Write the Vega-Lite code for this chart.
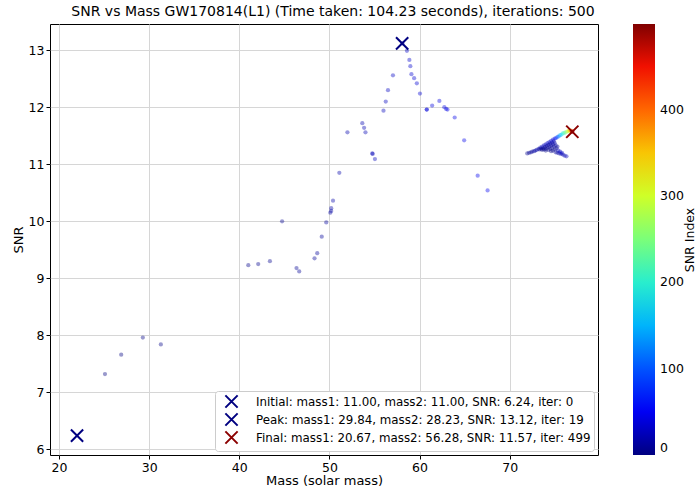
{
  "$schema": "https://vega.github.io/schema/vega-lite/v6.json",
  "width": 548,
  "height": 431,
  "autosize": {"type": "none"},
  "padding": {"left": 50, "top": 24, "right": 99, "bottom": 34},
  "config": {
    "font": "DejaVu Sans",
    "view": {"stroke": "#000000", "strokeWidth": 1},
    "axis": {
      "grid": true,
      "gridColor": "#d6d6d6",
      "gridWidth": 1,
      "domain": false,
      "tickColor": "#000000",
      "tickSize": 4,
      "labelFontSize": 12.5,
      "labelColor": "#000000",
      "labelPadding": 2,
      "titleFontSize": 13,
      "titleFontWeight": "normal",
      "titleColor": "#000000"
    }
  },
  "title": {
    "text": "SNR vs Mass GW170814(L1) (Time taken: 104.23 seconds), iterations: 500",
    "fontSize": 14,
    "fontWeight": "normal",
    "color": "#000000",
    "offset": 5,
    "dx": 9
  },
  "datasets": {
    "pts": [
      {"m": 25.1, "snr": 7.32, "idx": 0},
      {"m": 26.9, "snr": 7.66, "idx": 1},
      {"m": 29.3, "snr": 7.96, "idx": 2},
      {"m": 31.3, "snr": 7.84, "idx": 3},
      {"m": 41.0, "snr": 9.23, "idx": 4},
      {"m": 42.1, "snr": 9.25, "idx": 5},
      {"m": 43.4, "snr": 9.30, "idx": 6},
      {"m": 44.75, "snr": 10.0, "idx": 7},
      {"m": 46.35, "snr": 9.18, "idx": 8},
      {"m": 46.65, "snr": 9.12, "idx": 9},
      {"m": 48.35, "snr": 9.35, "idx": 10},
      {"m": 48.65, "snr": 9.44, "idx": 11},
      {"m": 49.15, "snr": 9.73, "idx": 12},
      {"m": 49.65, "snr": 9.98, "idx": 13},
      {"m": 50.1, "snr": 10.15, "idx": 14},
      {"m": 50.2, "snr": 10.18, "idx": 15},
      {"m": 50.2, "snr": 10.23, "idx": 16},
      {"m": 50.4, "snr": 10.36, "idx": 17},
      {"m": 51.1, "snr": 10.85, "idx": 18},
      {"m": 52.0, "snr": 11.56, "idx": 19},
      {"m": 53.65, "snr": 11.72, "idx": 20},
      {"m": 53.85, "snr": 11.64, "idx": 21},
      {"m": 54.0, "snr": 11.56, "idx": 22},
      {"m": 54.75, "snr": 11.19, "idx": 23},
      {"m": 54.8, "snr": 11.18, "idx": 24},
      {"m": 55.05, "snr": 11.09, "idx": 25},
      {"m": 56.0, "snr": 11.94, "idx": 26},
      {"m": 56.25, "snr": 12.10, "idx": 27},
      {"m": 56.5, "snr": 12.30, "idx": 28},
      {"m": 57.05, "snr": 12.56, "idx": 29},
      {"m": 58.1, "snr": 13.12, "idx": 30},
      {"m": 58.6, "snr": 12.99, "idx": 31},
      {"m": 58.87, "snr": 12.83, "idx": 32},
      {"m": 58.98, "snr": 12.72, "idx": 33},
      {"m": 59.1, "snr": 12.58, "idx": 34},
      {"m": 59.4, "snr": 12.51, "idx": 35},
      {"m": 59.7, "snr": 12.42, "idx": 36},
      {"m": 60.05, "snr": 12.24, "idx": 37},
      {"m": 60.8, "snr": 11.96, "idx": 38},
      {"m": 60.8, "snr": 11.96, "idx": 39},
      {"m": 61.4, "snr": 12.03, "idx": 40},
      {"m": 62.2, "snr": 12.11, "idx": 41},
      {"m": 62.75, "snr": 12.0, "idx": 42},
      {"m": 62.95, "snr": 11.97, "idx": 43},
      {"m": 63.1, "snr": 11.96, "idx": 44},
      {"m": 63.9, "snr": 11.82, "idx": 45},
      {"m": 64.95, "snr": 11.42, "idx": 46},
      {"m": 66.45, "snr": 10.80, "idx": 47},
      {"m": 67.55, "snr": 10.54, "idx": 48},
      {"m": 71.95, "snr": 11.19, "idx": 6},
      {"m": 72.15, "snr": 11.20, "idx": 8},
      {"m": 72.35, "snr": 11.21, "idx": 10},
      {"m": 72.5, "snr": 11.22, "idx": 12},
      {"m": 72.7, "snr": 11.23, "idx": 14},
      {"m": 72.85, "snr": 11.24, "idx": 16},
      {"m": 73.0, "snr": 11.25, "idx": 18},
      {"m": 73.2, "snr": 11.27, "idx": 20},
      {"m": 73.4, "snr": 11.29, "idx": 22},
      {"m": 73.6, "snr": 11.31, "idx": 24},
      {"m": 73.8, "snr": 11.33, "idx": 26},
      {"m": 74.0, "snr": 11.35, "idx": 28},
      {"m": 74.2, "snr": 11.37, "idx": 30},
      {"m": 74.4, "snr": 11.39, "idx": 32},
      {"m": 74.6, "snr": 11.41, "idx": 34},
      {"m": 74.8, "snr": 11.43, "idx": 38},
      {"m": 75.0, "snr": 11.45, "idx": 44},
      {"m": 73.3, "snr": 11.26, "idx": 5},
      {"m": 73.5, "snr": 11.27, "idx": 7},
      {"m": 73.7, "snr": 11.28, "idx": 9},
      {"m": 73.9, "snr": 11.30, "idx": 11},
      {"m": 74.1, "snr": 11.32, "idx": 13},
      {"m": 74.3, "snr": 11.34, "idx": 15},
      {"m": 74.5, "snr": 11.36, "idx": 17},
      {"m": 74.7, "snr": 11.38, "idx": 19},
      {"m": 74.9, "snr": 11.40, "idx": 21},
      {"m": 73.6, "snr": 11.25, "idx": 4},
      {"m": 73.8, "snr": 11.26, "idx": 6},
      {"m": 74.0, "snr": 11.27, "idx": 8},
      {"m": 74.2, "snr": 11.29, "idx": 10},
      {"m": 74.4, "snr": 11.31, "idx": 12},
      {"m": 74.6, "snr": 11.33, "idx": 14},
      {"m": 74.8, "snr": 11.35, "idx": 16},
      {"m": 75.0, "snr": 11.37, "idx": 18},
      {"m": 74.0, "snr": 11.24, "idx": 3},
      {"m": 74.3, "snr": 11.25, "idx": 5},
      {"m": 74.5, "snr": 11.27, "idx": 7},
      {"m": 74.7, "snr": 11.29, "idx": 9},
      {"m": 74.9, "snr": 11.31, "idx": 11},
      {"m": 75.1, "snr": 11.33, "idx": 13},
      {"m": 74.6, "snr": 11.23, "idx": 2},
      {"m": 74.8, "snr": 11.24, "idx": 4},
      {"m": 75.0, "snr": 11.26, "idx": 6},
      {"m": 75.2, "snr": 11.28, "idx": 8},
      {"m": 75.3, "snr": 11.31, "idx": 10},
      {"m": 75.1, "snr": 11.21, "idx": 12},
      {"m": 75.3, "snr": 11.20, "idx": 14},
      {"m": 75.5, "snr": 11.19, "idx": 16},
      {"m": 75.7, "snr": 11.18, "idx": 18},
      {"m": 75.9, "snr": 11.17, "idx": 20},
      {"m": 76.1, "snr": 11.15, "idx": 22},
      {"m": 76.3, "snr": 11.14, "idx": 24},
      {"m": 75.4, "snr": 11.24, "idx": 26},
      {"m": 75.6, "snr": 11.22, "idx": 28},
      {"m": 75.8, "snr": 11.20, "idx": 30},
      {"m": 75.15, "snr": 11.46, "idx": 70},
      {"m": 75.3, "snr": 11.48, "idx": 95},
      {"m": 75.45, "snr": 11.49, "idx": 120},
      {"m": 75.6, "snr": 11.51, "idx": 145},
      {"m": 75.75, "snr": 11.52, "idx": 170},
      {"m": 75.9, "snr": 11.54, "idx": 195},
      {"m": 76.05, "snr": 11.55, "idx": 220},
      {"m": 76.2, "snr": 11.56, "idx": 245},
      {"m": 76.35, "snr": 11.57, "idx": 270},
      {"m": 76.5, "snr": 11.58, "idx": 300},
      {"m": 76.6, "snr": 11.59, "idx": 330},
      {"m": 76.7, "snr": 11.59, "idx": 360},
      {"m": 76.8, "snr": 11.59, "idx": 390},
      {"m": 76.9, "snr": 11.58, "idx": 430},
      {"m": 76.95, "snr": 11.57, "idx": 470},
      {"m": 76.95, "snr": 11.57, "idx": 499}
    ],
    "marks": [
      {"m": 22.0, "snr": 6.24, "label": "Initial: mass1: 11.00, mass2: 11.00, SNR: 6.24, iter: 0"},
      {"m": 58.07, "snr": 13.12, "label": "Peak: mass1: 29.84, mass2: 28.23, SNR: 13.12, iter: 19"},
      {"m": 76.95, "snr": 11.57, "label": "Final: mass1: 20.67, mass2: 56.28, SNR: 11.57, iter: 499"}
    ]
  },
  "layer": [
    {
      "data": {"name": "pts"},
      "mark": {"type": "point", "filled": true, "fillOpacity": 0.4, "strokeWidth": 0, "size": 18},
      "encoding": {
        "x": {
          "field": "m", "type": "quantitative",
          "scale": {"domain": [19.0, 79.8], "nice": false, "zero": false},
          "axis": {"title": "Mass (solar mass)", "values": [20, 30, 40, 50, 60, 70], "format": "d", "titlePadding": 1}
        },
        "y": {
          "field": "snr", "type": "quantitative",
          "scale": {"domain": [5.9, 13.46], "nice": false, "zero": false},
          "axis": {"title": "SNR", "values": [6, 7, 8, 9, 10, 11, 12, 13], "format": "d", "titlePadding": 3}
        },
        "color": {
          "field": "idx", "type": "quantitative",
          "scale": {
            "domain": [0, 54.9, 124.75, 174.65, 249.5, 319.4, 374.25, 444.1, 499],
            "range": ["#000080", "#0000ff", "#0080ff", "#00e6f8", "#7aff7a", "#f0ff08", "#ff9700", "#ff1200", "#800000"],
            "interpolate": "rgb"
          },
          "legend": {
            "title": "SNR Index",
            "orient": "right",
            "offset": 35,
            "padding": 0,
            "direction": "vertical",
            "gradientLength": 431,
            "gradientThickness": 22,
            "gradientStrokeWidth": 0,
            "gradientOpacity": 1,
            "values": [0, 100, 200, 300, 400],
            "labelFontSize": 12.5,
            "labelColor": "#000000",
            "labelOffset": 5,
            "titleOrient": "right",
            "titleAngle": -90,
            "titleAnchor": "middle",
            "titleBaseline": "top",
            "titleFontSize": 12.5,
            "titleFontWeight": "normal",
            "titleColor": "#000000",
            "titlePadding": 0,
            "encode": {"title": {"update": {"angle": {"value": -90}}}}
          }
        }
      }
    },
    {
      "data": {"name": "marks"},
      "mark": {"type": "point", "filled": false, "shape": "M-1,-1L1,1M-1,1L1,-1", "strokeWidth": 2, "size": 150, "opacity": 1},
      "encoding": {
        "x": {"field": "m", "type": "quantitative"},
        "y": {"field": "snr", "type": "quantitative"},
        "stroke": {
          "field": "label", "type": "nominal",
          "scale": {
            "domain": [
              "Initial: mass1: 11.00, mass2: 11.00, SNR: 6.24, iter: 0",
              "Peak: mass1: 29.84, mass2: 28.23, SNR: 13.12, iter: 19",
              "Final: mass1: 20.67, mass2: 56.28, SNR: 11.57, iter: 499"
            ],
            "range": ["#000080", "#000080", "#8b0000"]
          },
          "legend": {
            "title": null,
            "orient": "bottom-right",
            "offset": 4,
            "fillColor": "#ffffff",
            "strokeColor": "#cccccc",
            "cornerRadius": 3,
            "padding": 3,
            "rowPadding": -3.5,
            "symbolType": "M-1,-1L1,1M-1,1L1,-1",
            "symbolSize": 150,
            "symbolStrokeWidth": 2,
            "symbolOffset": 6,
            "labelFontSize": 11.85,
            "labelColor": "#000000",
            "labelOffset": 17,
            "labelLimit": 500
          }
        }
      }
    }
  ]
}
